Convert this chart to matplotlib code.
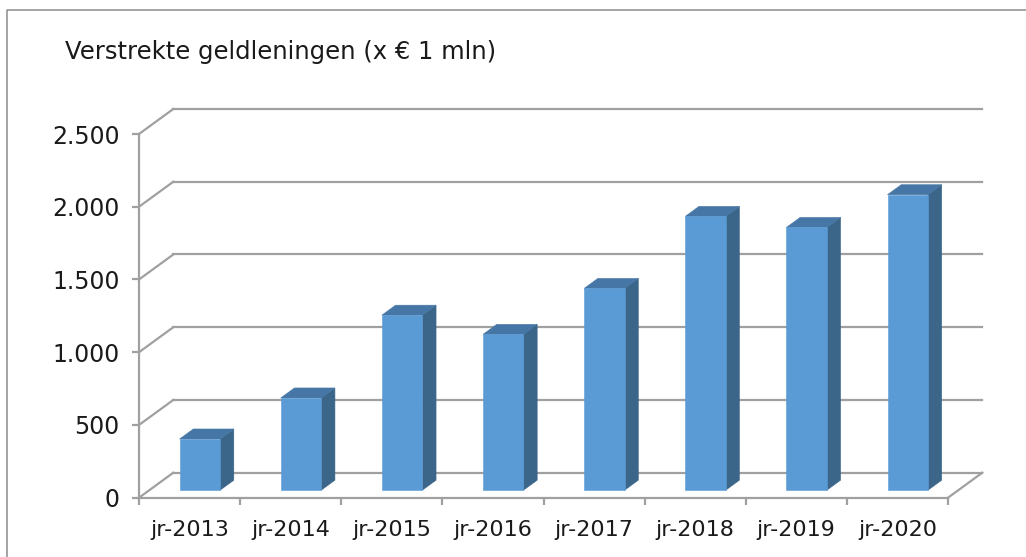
import matplotlib
matplotlib.use("Agg")
import matplotlib.pyplot as plt
from matplotlib.patches import Polygon
from matplotlib.lines import Line2D

# Data
categories = ["jr-2013", "jr-2014", "jr-2015", "jr-2016",
              "jr-2017", "jr-2018", "jr-2019", "jr-2020"]
values = [352, 634, 1203, 1071, 1387, 1882, 1806, 2031]
y_ticks = [0, 500, 1000, 1500, 2000, 2500]
y_tick_labels = ["0", "500", "1.000", "1.500", "2.000", "2.500"]
title = "Verstrekte geldleningen (x \u20ac 1 mln)"

# Styling
FONT = "DejaVu Sans"
GRID = "#a0a0a0"
FRONT = "#5b9bd5"
SIDE = "#3b6589"
TOP = "#4676a5"

W, H = 1026, 557
fig = plt.figure(figsize=(W / 100, H / 100), dpi=100)
fig.patch.set_facecolor("white")

# front plane of the plot area in pixel coordinates
left_px, right_px = 139, 948
bottom_px, top_px = 497.7, 134
ax = fig.add_axes([left_px / W, 1 - bottom_px / H,
                   (right_px - left_px) / W, (bottom_px - top_px) / H])
ymax = 2500
ax.set_xlim(-0.5, len(categories) - 0.5)
ax.set_ylim(0, ymax)
ax.set_facecolor("none")

# oblique depth vector, expressed in data units (34 px right, 25 px up)
px_per_cat = (right_px - left_px) / len(categories)
px_per_val = (bottom_px - top_px) / ymax
DX = 34.3 / px_per_cat
DY = 25.0 / px_per_val


def proj(x, y, d):
    return (x + d * DX, y + d * DY)


x_lo, x_hi = -0.5, len(categories) - 0.5
lw = 1.6

# back wall gridlines and left wall diagonals
for v in y_ticks:
    ax.add_line(Line2D([proj(x_lo, v, 1)[0], proj(x_hi, v, 1)[0]],
                       [proj(x_lo, v, 1)[1], proj(x_hi, v, 1)[1]],
                       color=GRID, lw=lw, clip_on=False, zorder=1))
    p0, p1 = proj(x_lo, v, 0), proj(x_lo, v, 1)
    ax.add_line(Line2D([p0[0], p1[0]], [p0[1], p1[1]],
                       color=GRID, lw=lw, clip_on=False, zorder=1))

# floor right edge
p0, p1 = proj(x_hi, 0, 0), proj(x_hi, 0, 1)
ax.add_line(Line2D([p0[0], p1[0]], [p0[1], p1[1]],
                   color=GRID, lw=lw, clip_on=False, zorder=1))

# 3D columns
half_w = 0.2
f0, f1 = 0.3, 0.7
for i, v in enumerate(values):
    x0, x1 = i - half_w, i + half_w
    front = [proj(x0, 0, f0), proj(x1, 0, f0), proj(x1, v, f0), proj(x0, v, f0)]
    side = [proj(x1, 0, f0), proj(x1, 0, f1), proj(x1, v, f1), proj(x1, v, f0)]
    top = [proj(x0, v, f0), proj(x1, v, f0), proj(x1, v, f1), proj(x0, v, f1)]
    for pts, col in ((side, SIDE), (top, TOP), (front, FRONT)):
        ax.add_patch(Polygon(pts, closed=True, facecolor=col,
                             edgecolor=col, lw=0.4, clip_on=False, zorder=3))

# axes lines (front edges)
for s in ("top", "right"):
    ax.spines[s].set_visible(False)
for s in ("left", "bottom"):
    ax.spines[s].set_color(GRID)
    ax.spines[s].set_linewidth(lw)
    ax.spines[s].set_zorder(2)

ax.set_yticks(y_ticks)
ax.set_yticklabels(y_tick_labels, fontsize=17, family=FONT, color="#1a1a1a")
ax.tick_params(axis="y", length=5, width=lw, color=GRID, pad=9)

ax.set_xticks(range(len(categories)))
ax.set_xticklabels(categories, fontsize=16, family=FONT, color="#1a1a1a")
ax.set_xticks([k - 0.5 for k in range(len(categories) + 1)], minor=True)
ax.tick_params(axis="x", which="major", length=0, pad=16)
ax.tick_params(axis="x", which="minor", length=5, width=lw, color=GRID)

# title
fig.text(65 / W, 1 - 52 / H, title, fontsize=17.5, family=FONT,
         color="#1a1a1a", ha="left", va="center")

# chart area frame (left and top edges visible)
frame_x = [7 / W, 7 / W, 1.0]
frame_y = [0.0, 1 - 10 / H, 1 - 10 / H]
fig.add_artist(Line2D(frame_x, frame_y, transform=fig.transFigure,
                      color="#8c8c8c", lw=1.1))

fig.savefig("out.png", dpi=100, facecolor="white")
